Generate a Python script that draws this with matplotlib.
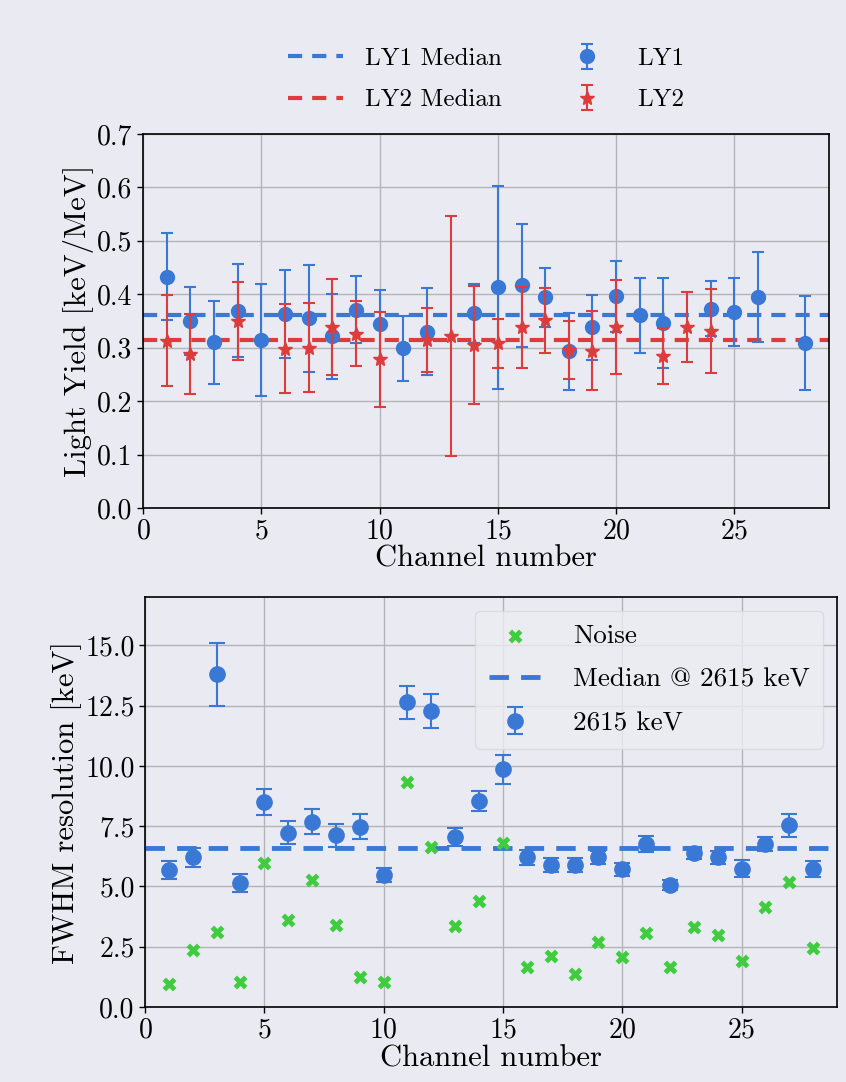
import numpy as np
import matplotlib
matplotlib.use("Agg")
import matplotlib.pyplot as plt

# ---------------- data ----------------
ly1_ch = [1, 2, 3, 4, 5, 6, 7, 8, 9, 10, 11, 12, 14, 15, 16, 17, 18, 19, 20, 21, 22, 24, 25, 26, 28]
ly1_val = [0.433, 0.350, 0.310, 0.369, 0.315, 0.363, 0.355, 0.321, 0.371, 0.344, 0.299, 0.330, 0.364,
           0.413, 0.417, 0.394, 0.293, 0.338, 0.396, 0.361, 0.346, 0.373, 0.367, 0.395, 0.308]
ly1_err = [0.082, 0.063, 0.078, 0.087, 0.105, 0.082, 0.100, 0.079, 0.063, 0.064, 0.061, 0.081, 0.055,
           0.190, 0.115, 0.055, 0.072, 0.061, 0.067, 0.070, 0.084, 0.052, 0.064, 0.084, 0.088]

ly2_ch = [1, 2, 4, 6, 7, 8, 9, 10, 12, 13, 14, 15, 16, 17, 18, 19, 20, 22, 23, 24]
ly2_val = [0.313, 0.288, 0.350, 0.298, 0.300, 0.338, 0.326, 0.278, 0.315, 0.322, 0.305, 0.308, 0.338,
           0.351, 0.296, 0.294, 0.338, 0.284, 0.339, 0.331]
ly2_err = [0.085, 0.075, 0.073, 0.083, 0.083, 0.090, 0.061, 0.089, 0.060, 0.225, 0.110, 0.046, 0.076,
           0.061, 0.054, 0.074, 0.088, 0.052, 0.065, 0.079]

ly1_median = 0.362
ly2_median = 0.314

res_ch = list(range(1, 29))
res_val = [5.68, 6.20, 13.79, 5.13, 8.51, 7.23, 7.68, 7.12, 7.48, 5.48, 12.64, 12.28, 7.05, 8.54,
           9.85, 6.21, 5.88, 5.88, 6.20, 5.71, 6.75, 5.06, 6.38, 6.20, 5.73, 6.78, 7.54, 5.71]
res_err = [0.37, 0.39, 1.29, 0.37, 0.55, 0.47, 0.52, 0.47, 0.52, 0.30, 0.69, 0.70, 0.39, 0.41,
           0.61, 0.32, 0.28, 0.28, 0.29, 0.27, 0.34, 0.22, 0.26, 0.29, 0.35, 0.29, 0.48, 0.33]
noise_val = [0.95, 2.37, 3.10, 1.05, 5.99, 3.60, 5.27, 3.39, 1.26, 1.05, 9.31, 6.63, 3.36, 4.38,
             6.82, 1.67, 2.12, 1.36, 2.68, 2.06, 3.06, 1.65, 3.33, 2.99, 1.92, 4.16, 5.17, 2.44]
res_median = 6.58

# ---------------- style ----------------
BG = "#eaeaf2"
BLUE = "#3a78d6"
RED = "#dc3c3c"
GREEN = "#3fcc3f"

plt.rcParams.update({
    "font.family": ["cmr10", "DejaVu Serif"],
    "mathtext.fontset": "cm",
    "axes.formatter.use_mathtext": True,
    "axes.unicode_minus": False,
    "figure.facecolor": BG,
    "axes.facecolor": BG,
    "axes.edgecolor": "black",
    "axes.linewidth": 1.2,
    "grid.color": "#b4b4b8",
    "grid.linewidth": 1.0,
    "xtick.direction": "out",
    "ytick.direction": "out",
    "xtick.major.size": 4,
    "ytick.major.size": 4,
    "xtick.labelsize": 20,
    "ytick.labelsize": 20,
    "axes.labelsize": 22,
    "legend.fontsize": 18,
})

fig = plt.figure(figsize=(8.46, 10.82), dpi=100)
ax1 = fig.add_axes([0.169, 0.5305, 0.811, 0.3457])
ax2 = fig.add_axes([0.1714, 0.0693, 0.818, 0.3789])

# ---------------- top panel ----------------
h_m1 = ax1.axhline(ly1_median, color=BLUE, ls=(0, (3.4, 2.4)), lw=3, label="LY1 Median", zorder=2)
h_m2 = ax1.axhline(ly2_median, color=RED, ls=(0, (3.4, 2.4)), lw=3, label="LY2 Median", zorder=2)
h_1 = ax1.errorbar(ly1_ch, ly1_val, yerr=ly1_err, fmt="o", color=BLUE, ms=10, capsize=4,
                   elinewidth=1.5, capthick=1.5, label="LY1", zorder=3)
h_2 = ax1.errorbar(ly2_ch, ly2_val, yerr=ly2_err, fmt="*", color=RED, ms=10, capsize=4,
                   elinewidth=1.5, capthick=1.5, label="LY2", zorder=4)
ax1.set_xlim(0, 29)
ax1.set_ylim(0, 0.7)
ax1.set_xticks([0, 5, 10, 15, 20, 25])
ax1.set_yticks(np.arange(0, 0.71, 0.1))
ax1.set_yticklabels([f"{v:.1f}" for v in np.arange(0, 0.71, 0.1)])
ax1.grid(True, zorder=0)
ax1.set_axisbelow(True)
ax1.set_xlabel("Channel number", labelpad=0)
ax1.set_ylabel("Light Yield [keV/MeV]", labelpad=2)
leg1 = ax1.legend(handles=[h_m1, h_m2, h_1, h_2], ncol=2, loc="lower center",
                  bbox_to_anchor=(0.5, 1.0), frameon=False, columnspacing=2.3,
                  handlelength=2.2, handletextpad=0.9, labelspacing=0.75)

# ---------------- bottom panel ----------------
h_n = ax2.scatter(res_ch, noise_val, marker="X", color=GREEN, s=100, label="Noise", zorder=3,
                  linewidths=0)
h_rm = ax2.axhline(res_median, color=BLUE, ls=(0, (4, 2.5)), lw=3.5, label="Median @ 2615 keV",
                   zorder=2)
h_r = ax2.errorbar(res_ch, res_val, yerr=res_err, fmt="o", color=BLUE, ms=11, capsize=6,
                   elinewidth=1.5, capthick=1.5, label="2615 keV", zorder=4)
ax2.set_xlim(0, 29)
ax2.set_ylim(0, 17)
ax2.set_xticks([0, 5, 10, 15, 20, 25])
ax2.set_yticks(np.arange(0, 15.1, 2.5))
ax2.set_yticklabels([f"{v:.1f}" for v in np.arange(0, 15.1, 2.5)])
ax2.grid(True, zorder=0)
ax2.set_axisbelow(True)
ax2.set_xlabel("Channel number", labelpad=1)
ax2.set_ylabel("FWHM resolution [keV]", labelpad=2)
leg2 = ax2.legend(handles=[h_n, h_rm, h_r], loc="upper right", fontsize=19.5,
                  facecolor="#ececf2", edgecolor="#d8d8dc", framealpha=0.8, handlelength=1.9,
                  handletextpad=1.2, borderpad=0.5, labelspacing=0.72)

for ax in (ax1, ax2):
    ax.tick_params(axis="both", which="both", color="black", length=4, width=1)

fig.savefig("out.png", dpi=100, facecolor=BG)
